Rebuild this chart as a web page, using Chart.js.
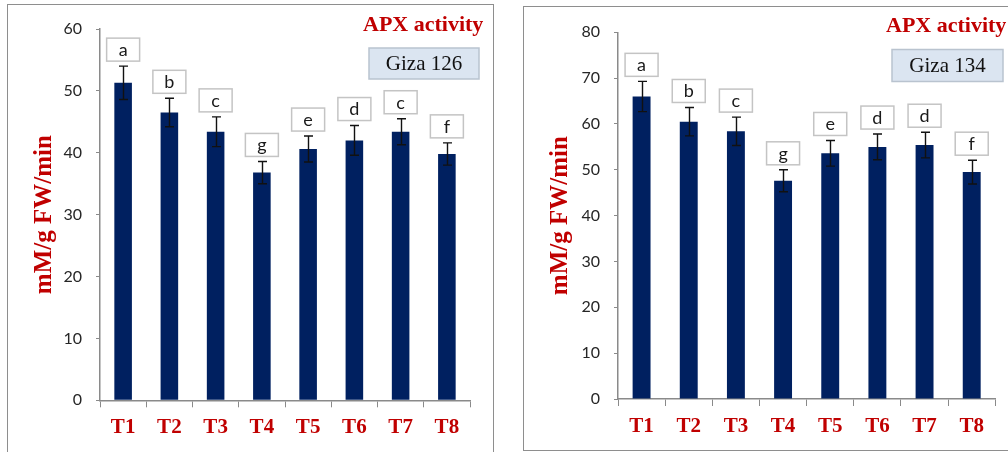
<!DOCTYPE html>
<html>
<head>
<meta charset="utf-8">
<script src="https://cdn.jsdelivr.net/npm/chart.js@4.4.0/dist/chart.umd.min.js"></script>
<style>
  html, body { margin: 0; padding: 0; background: #fff; }
  body { width: 1008px; height: 452px; position: relative; overflow: hidden; }
  .frame { position: absolute; border: 1.5px solid #8e8e8e; box-sizing: border-box; }
  #f1 { left: 7px; top: 4px; width: 487px; height: 470px; }
  #f2 { left: 523px; top: 6px; width: 520px; height: 445px; }
  canvas { position: absolute; left: 0; top: 0; }
</style>
</head>
<body>
<div class="frame" id="f1"></div>
<div class="frame" id="f2"></div>
<canvas id="c1" width="1008" height="452"></canvas>
<canvas id="c2" width="1008" height="452"></canvas>
<script>
// ---- data ----
const categories = ['T1', 'T2', 'T3', 'T4', 'T5', 'T6', 'T7', 'T8'];

const giza126Values = [51.3, 46.5, 43.4, 36.8, 40.6, 42.0, 43.4, 39.8];
const giza126Errors = [2.7, 2.3, 2.4, 1.8, 2.1, 2.4, 2.1, 1.8];
const giza126Letters = ['a', 'b', 'c', 'g', 'e', 'd', 'c', 'f'];
const giza126Ticks = [0, 10, 20, 30, 40, 50, 60];

const giza134Values = [66.0, 60.5, 58.4, 47.6, 53.6, 55.0, 55.4, 49.5];
const giza134Errors = [3.3, 3.1, 3.1, 2.4, 2.8, 2.8, 2.8, 2.6];
const giza134Letters = ['a', 'b', 'c', 'g', 'e', 'd', 'd', 'f'];
const giza134Ticks = [0, 10, 20, 30, 40, 50, 60, 70, 80];

const chartTitle = 'APX activity';
const yTitle = 'mM/g FW/min';
const giza126Name = 'Giza 126';
const giza134Name = 'Giza 134';

// ---- annotation plugin: error bars, letter boxes, title, variety box ----
const annotPlugin = {
  id: 'annot',
  afterDatasetsDraw(chart, args, o) {
    const ctx = chart.ctx;
    const y = chart.scales.y;
    const meta = chart.getDatasetMeta(0);
    const vals = chart.data.datasets[0].data;
    ctx.save();
    meta.data.forEach((bar, i) => {
      const cx = Math.round(bar.x) + 0.5;
      const yt = y.getPixelForValue(vals[i] + o.errors[i]);
      const yb = y.getPixelForValue(vals[i] - o.errors[i]);
      ctx.strokeStyle = '#111';
      ctx.lineWidth = 1.4;
      ctx.beginPath();
      ctx.moveTo(cx, yt); ctx.lineTo(cx, yb);
      ctx.moveTo(cx - 4.5, yt); ctx.lineTo(cx + 4.5, yt);
      ctx.moveTo(cx - 4.5, yb); ctx.lineTo(cx + 4.5, yb);
      ctx.stroke();
      // letter box
      const bw = 33, bh = 23;
      const bx = bar.x - bw / 2;
      const by = yt - 5 - bh;
      ctx.fillStyle = '#ffffff';
      ctx.fillRect(bx, by, bw, bh);
      ctx.strokeStyle = '#c4c4c4';
      ctx.lineWidth = 1.5;
      ctx.strokeRect(bx, by, bw, bh);
      ctx.fillStyle = '#1a1a1a';
      ctx.font = '18px Lato, "Open Sans", sans-serif';
      ctx.textAlign = 'center';
      ctx.textBaseline = 'middle';
      ctx.fillText(o.letters[i], bar.x, by + bh / 2 + 0.5);
    });
    // chart title
    ctx.fillStyle = '#c00000';
    ctx.font = 'bold 22px "Liberation Serif", "Times New Roman", serif';
    ctx.textAlign = 'left';
    ctx.textBaseline = 'alphabetic';
    ctx.fillText(chartTitle, o.titleX, o.titleY);
    // variety box
    const g = o.box;
    ctx.fillStyle = '#dbe5f1';
    ctx.fillRect(g.x, g.y, g.w, g.h);
    ctx.strokeStyle = '#b9c3cf';
    ctx.lineWidth = 1.5;
    ctx.strokeRect(g.x, g.y, g.w, g.h);
    ctx.fillStyle = '#111';
    ctx.font = '21px "Liberation Serif", "Times New Roman", serif';
    ctx.textAlign = 'center';
    ctx.textBaseline = 'middle';
    ctx.fillText(o.name, g.x + g.w / 2, g.y + g.h / 2 + 1);
    ctx.restore();
  }
};

function makeChart(id, values, errors, letters, ticks, name, pad, yTitlePad, titleX, titleY, box) {
  const yMax = ticks[ticks.length - 1];
  const step = ticks[1] - ticks[0];
  return new Chart(document.getElementById(id), {
    type: 'bar',
    data: {
      labels: categories,
      datasets: [{
        data: values,
        backgroundColor: '#002060',
        borderWidth: 0,
        barPercentage: 0.38,
        categoryPercentage: 1.0
      }]
    },
    options: {
      responsive: false,
      animation: false,
      layout: { padding: pad },
      plugins: {
        legend: { display: false },
        tooltip: { enabled: false },
        annot: { errors, letters, name, titleX, titleY, box }
      },
      scales: {
        x: {
          grid: { drawOnChartArea: false, drawTicks: true, tickLength: 7, color: '#8a8a8a', offset: true },
          border: { display: true, color: '#8a8a8a', width: 1.5 },
          ticks: {
            color: '#c00000',
            font: { family: '"Liberation Serif", "Times New Roman", serif', size: 21, weight: 'bold' },
            padding: 8,
            maxRotation: 0
          },
          afterFit(s) { s.height = 40; s.paddingLeft = 0; s.paddingRight = 0; }
        },
        y: {
          min: 0,
          max: yMax,
          ticks: {
            stepSize: step,
            color: '#262626',
            font: { family: 'Lato, "Open Sans", sans-serif', size: 16 },
            padding: 14
          },
          grid: { drawOnChartArea: false, drawTicks: true, tickLength: 4, color: '#8a8a8a' },
          border: { display: true, color: '#8a8a8a', width: 1.5 },
          title: {
            display: true,
            text: yTitle,
            color: '#c00000',
            font: { family: '"Liberation Serif", "Times New Roman", serif', size: 25, weight: 'bold' },
            padding: { top: yTitlePad, bottom: 0 }
          },
          afterFit(s) { s.width = 80; s.paddingTop = 0; s.paddingBottom = 0; }
        }
      }
    },
    plugins: [annotPlugin]
  });
}

makeChart('c1', giza126Values, giza126Errors, giza126Letters, giza126Ticks, giza126Name,
  { left: 20, right: 538, top: 29, bottom: 11.7 }, 10, 363, 31,
  { x: 369, y: 48, w: 110, h: 31 });

makeChart('c2', giza134Values, giza134Errors, giza134Letters, giza134Ticks, giza134Name,
  { left: 538, right: 12.7, top: 32.3, bottom: 13 }, 8, 886, 32,
  { x: 892, y: 49.5, w: 111, h: 32 });
</script>
</body>
</html>
